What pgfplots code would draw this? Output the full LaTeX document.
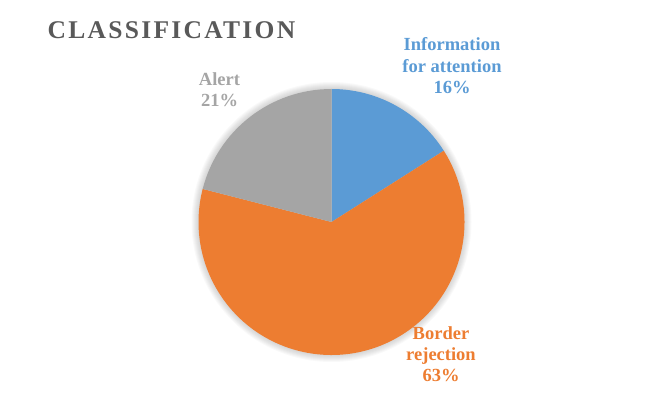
\documentclass[border=0pt]{standalone}
\usepackage{pgfplots}
\pgfplotsset{compat=1.18}
\usepackage{pgfplotstable}
\usepackage{fontspec}
\setmainfont{Liberation Serif}
\newfontfamily\titlefont[LetterSpace=9]{Liberation Serif}
\definecolor{pieblue}{RGB}{91,155,213}
\definecolor{pieorange}{RGB}{237,125,49}
\definecolor{piegray}{RGB}{165,165,165}
\definecolor{titlegray}{RGB}{89,89,89}
\pgfplotstableread{
value
16
63
21
}\piedata
\begin{document}
\begin{tikzpicture}
\pgfplotstablegetelem{0}{value}\of\piedata \let\va\pgfplotsretval
\pgfplotstablegetelem{1}{value}\of\piedata \let\vb\pgfplotsretval
\pgfplotstablegetelem{2}{value}\of\piedata \let\vc\pgfplotsretval
\pgfmathsetmacro\aA{90-3.6*\va}
\pgfmathsetmacro\aB{\aA-3.6*\vb}
\pgfmathsetmacro\aC{\aB-3.6*\vc}
\begin{axis}[
  x=1pt, y=1pt, xmin=0, xmax=662, ymin=0, ymax=394,
  hide axis, clip=false, anchor=south west, at={(0,0)}
]
\pgfplotsinvokeforeach{7,6,5,4,3,2,1}{
  \fill[black,opacity=0.022] (axis cs:331.5,172) circle[radius=133pt+#1pt];
}
\fill[pieblue] (axis cs:331.5,172) -- ++(90:133pt) arc[start angle=90, end angle=\aA, radius=133pt] -- cycle;
\fill[pieorange] (axis cs:331.5,172) -- ++(\aA:133pt) arc[start angle=\aA, end angle=\aB, radius=133pt] -- cycle;
\fill[piegray] (axis cs:331.5,172) -- ++(\aB:133pt) arc[start angle=\aB, end angle=\aC, radius=133pt] -- cycle;
\node[anchor=base west, inner sep=0pt, text=titlegray, font=\titlefont\bfseries\fontsize{25.5}{29}\selectfont] at (axis cs:47.5,355.7) {CLASSIFICATION};
\begin{scope}[every node/.style={anchor=base, inner sep=0pt, font=\bfseries\fontsize{18.5}{21}\selectfont}]
\node[text=pieblue] at (axis cs:452,343.3) {Information};
\node[text=pieblue] at (axis cs:452,321.3) {for attention};
\node[text=pieblue] at (axis cs:452,300.7) {16\%};
\node[text=piegray] at (axis cs:219.5,308.3) {Alert};
\node[text=piegray] at (axis cs:219.5,287.3) {21\%};
\node[text=pieorange] at (axis cs:441,54.7) {Border};
\node[text=pieorange] at (axis cs:441,33.5) {rejection};
\node[text=pieorange] at (axis cs:441,12.3) {63\%};
\end{scope}
\end{axis}
\path[use as bounding box] (0,0) rectangle (662pt,394pt);
\end{tikzpicture}
\end{document}
